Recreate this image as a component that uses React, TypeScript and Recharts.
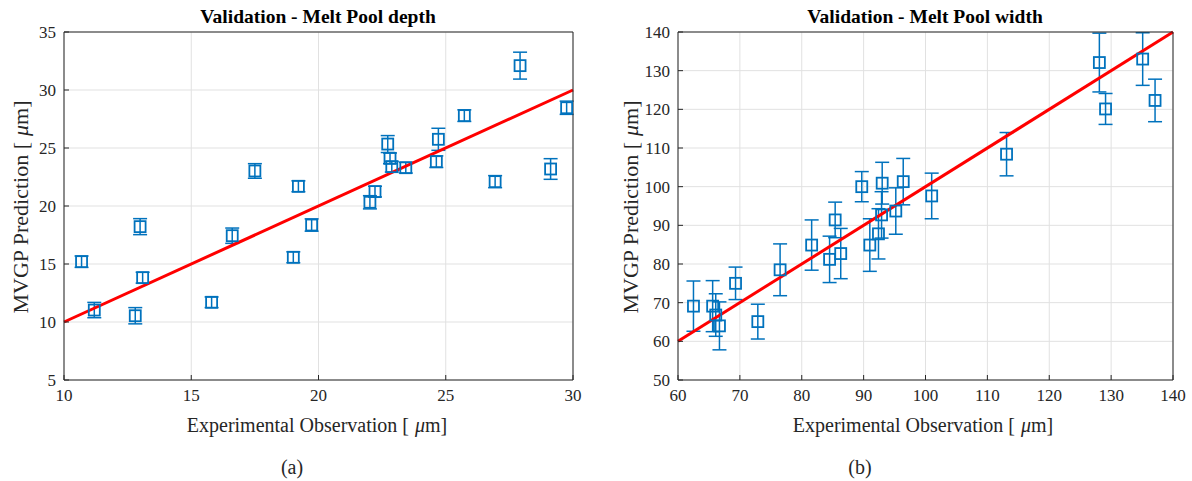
import React from 'react';
import { ScatterChart, Scatter, XAxis, YAxis, CartesianGrid, ErrorBar, ReferenceLine } from 'recharts';

// (a) melt pool depth
const depthObs = [10.69, 11.19, 12.8, 12.99, 13.09, 15.8, 16.61, 17.5, 19.01, 19.21, 19.73, 22.02, 22.22, 22.72, 22.81, 22.88, 23.43, 24.63, 24.71, 25.73, 26.94, 27.92, 29.12, 29.75];
const depthPred = [15.2, 11.03, 10.54, 18.22, 13.82, 11.7, 17.44, 23.02, 15.58, 21.7, 18.36, 20.32, 21.24, 25.34, 24.11, 23.39, 23.3, 23.82, 25.75, 27.79, 22.1, 32.1, 23.19, 28.47];
const depthErr = [0.49, 0.66, 0.7, 0.69, 0.47, 0.46, 0.66, 0.63, 0.47, 0.47, 0.53, 0.57, 0.46, 0.73, 0.46, 0.46, 0.46, 0.5, 0.95, 0.5, 0.52, 1.16, 0.89, 0.57];
const depthTicksX = [10, 15, 20, 25, 30];
const depthTicksY = [5, 10, 15, 20, 25, 30, 35];
const depthFit = [10, 30];

// (b) melt pool width
const widthObs = [62.5, 65.6, 66.1, 66.7, 69.3, 72.9, 76.5, 81.6, 84.5, 85.4, 86.3, 89.7, 91.0, 92.4, 92.9, 93.0, 95.2, 96.4, 101.0, 113.1, 128.1, 129.1, 135.1, 137.1];
const widthPred = [69.1, 69.1, 66.8, 64.0, 75.0, 65.1, 78.5, 84.9, 81.2, 91.4, 82.7, 100.0, 84.9, 87.8, 92.7, 100.9, 93.7, 101.3, 97.6, 108.4, 132.1, 120.1, 133.0, 122.3];
const widthErr = [6.5, 6.6, 5.5, 6.2, 4.2, 4.5, 6.7, 6.5, 6.0, 4.6, 6.5, 3.9, 6.8, 6.5, 6.0, 5.4, 6.0, 6.0, 5.9, 5.6, 7.6, 4.0, 6.8, 5.5];
const widthTicksX = [60, 70, 80, 90, 100, 110, 120, 130, 140];
const widthTicksY = [50, 60, 70, 80, 90, 100, 110, 120, 130, 140];
const widthFit = [60, 140];

const BLUE = '#0072BD';
const AXIS = '#262626';
const FONT = '"Liberation Serif", "Times New Roman", serif';

const HollowSquare = (props: any) => {
  const { cx, cy } = props;
  if (cx == null || cy == null) return null;
  return <rect x={cx - 5.5} y={cy - 5.5} width={11} height={11} fill="none" stroke={BLUE} strokeWidth={1.8} />;
};

// serif tick labels, x ticks hang below the point, y ticks sit left of it
const XTick = ({ x, y, payload }: any) => (
  <text x={x} y={y} dy="0.71em" textAnchor="middle" fill={AXIS} style={{ fontFamily: FONT, fontSize: 17 }}>
    {payload.value}
  </text>
);
const YTick = ({ x, y, payload }: any) => (
  <text x={x} y={y} dy="0.35em" textAnchor="end" fill={AXIS} style={{ fontFamily: FONT, fontSize: 17 }}>
    {payload.value}
  </text>
);

function Panel({ obs, pred, err, ticksX, ticksY, fit, left, plotLeft, plotRight }: any) {
  const rows = obs.map((x: number, i: number) => ({ x, y: pred[i], e: err[i] }));
  const W = 596;
  const dx = [ticksX[0], ticksX[ticksX.length - 1]];
  const dy = [ticksY[0], ticksY[ticksY.length - 1]];
  return (
    <div style={{ position: 'absolute', left, top: 0, fontFamily: FONT }}>
      <ScatterChart width={W} height={481} margin={{ top: 31, right: W - plotRight - 1, bottom: 71, left: plotLeft - 40 }}>
        <CartesianGrid stroke="#e1e1e1" />
        <XAxis
          dataKey="x" type="number" domain={dx} ticks={ticksX}
          height={30} tickSize={-5} tickMargin={14} stroke={AXIS} tick={XTick} interval={0} allowDataOverflow
        />
        <XAxis
          xAxisId="t" orientation="top" dataKey="x" type="number" domain={dx} ticks={ticksX}
          height={1} tickSize={-5} tick={false} stroke={AXIS} interval={0} allowDataOverflow
        />
        <YAxis
          dataKey="y" type="number" domain={dy} ticks={ticksY}
          width={40} tickSize={-5} tickMargin={13} stroke={AXIS} tick={YTick} interval={0} allowDataOverflow
        />
        <YAxis
          yAxisId="r" orientation="right" dataKey="y" type="number" domain={dy} ticks={ticksY}
          width={1} tickSize={-5} tick={false} stroke={AXIS} interval={0} allowDataOverflow
        />
        <Scatter data={rows} shape={HollowSquare} isAnimationActive={false}>
          <ErrorBar dataKey="e" direction="y" width={7} stroke={BLUE} strokeWidth={1.5} />
        </Scatter>
        <ReferenceLine
          segment={[{ x: fit[0], y: fit[0] }, { x: fit[1], y: fit[1] }]}
          stroke="#ff0000" strokeWidth={3}
        />
      </ScatterChart>
    </div>
  );
}

function Txt({ x, y, size, bold, rotate, children }: any) {
  return (
    <div style={{
      position: 'absolute', left: x, top: y, fontFamily: FONT, fontSize: size, whiteSpace: 'nowrap', lineHeight: 1,
      fontWeight: bold ? 'bold' : 'normal', color: bold ? '#000' : AXIS,
      transform: `translate(-50%, -50%)${rotate ? ' rotate(-90deg)' : ''}`,
    }}>
      {children}
    </div>
  );
}

const Micro = () => <span><span style={{ marginLeft: 6 }} /><i>&mu;</i>m]</span>;

export default function App() {
  return (
    <div style={{ position: 'absolute', left: 0, top: 0, width: 1192, height: 481, background: '#fff', overflow: 'hidden' }}>
      <Panel obs={depthObs} pred={depthPred} err={depthErr} ticksX={depthTicksX} ticksY={depthTicksY} fit={depthFit}
        left={0} plotLeft={64} plotRight={573} />
      <Panel obs={widthObs} pred={widthPred} err={widthErr} ticksX={widthTicksX} ticksY={widthTicksY} fit={widthFit}
        left={596} plotLeft={82} plotRight={577} />

      <Txt x={318} y={17} size={19.5} bold>Validation - Melt Pool depth</Txt>
      <Txt x={925} y={17} size={19.5} bold>Validation - Melt Pool width</Txt>

      <Txt x={317} y={425} size={20}>Experimental Observation [<Micro /></Txt>
      <Txt x={923} y={425} size={20}>Experimental Observation [<Micro /></Txt>

      <Txt x={21} y={207} size={22} rotate>MVGP Prediction [<Micro /></Txt>
      <Txt x={631} y={207} size={22} rotate>MVGP Prediction [<Micro /></Txt>

      <Txt x={292} y={467} size={20}>(a)</Txt>
      <Txt x={860} y={467} size={20}>(b)</Txt>
    </div>
  );
}
